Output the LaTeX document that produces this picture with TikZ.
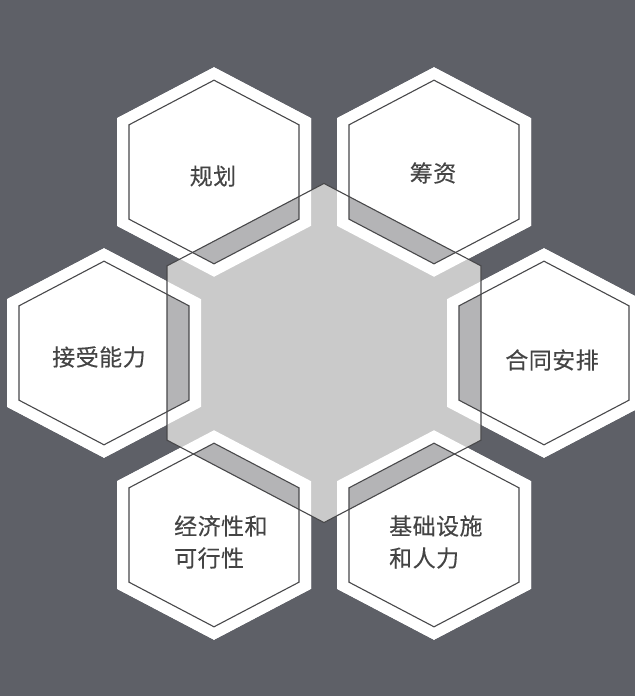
\documentclass[tikz,border=0pt]{standalone}
\usepackage{fontspec}
\newfontfamily\cjk[LetterSpace=2,FakeBold=0.25]{Noto Sans CJK SC}
\definecolor{bgdark}{RGB}{94,96,103}
\definecolor{stip}{RGB}{202,202,202}
\definecolor{stipdark}{RGB}{180,180,182}
\definecolor{linec}{RGB}{72,72,74}
\definecolor{txt}{RGB}{68,68,68}
\newcommand\hexagonpath[3]{({#1+#3},{#2-0.555*#3}) -- ({#1},{#2-1.08*#3}) -- ({#1-#3},{#2-0.555*#3}) -- ({#1-#3},{#2+0.555*#3}) -- ({#1},{#2+1.08*#3}) -- ({#1+#3},{#2+0.555*#3}) -- cycle}
\tikzset{
  lbl/.style={inner sep=0pt, text=txt, font=\cjk\fontsize{23}{32}\selectfont},
  hexline/.style={draw=linec, line width=1.1pt, line join=miter},
}
\begin{document}
\begin{tikzpicture}[x=1pt,y=-1pt]
\useasboundingbox (0,0) rectangle (635,696);
\fill[bgdark] (0,0) rectangle (635,696);
% outer white cells
\foreach \cx/\cy in {214/172,434/172,104/353,544/353,214/535,434/535}
  \fill[white] \hexagonpath{\cx}{\cy}{97};
% central hexagon fill
\fill[stip] \hexagonpath{324}{353}{157};
% overlap strips
\begin{scope}
  \clip \hexagonpath{324}{353}{157};
  \foreach \cx/\cy in {214/172,434/172,104/353,544/353,214/535,434/535}
    \fill[stipdark] \hexagonpath{\cx}{\cy}{85};
\end{scope}
% white bands
\foreach \cx/\cy in {214/172,434/172,104/353,544/353,214/535,434/535}
  \fill[white, even odd rule] \hexagonpath{\cx}{\cy}{97} \hexagonpath{\cx}{\cy}{85};
% inner outlines
\foreach \cx/\cy in {214/172,434/172,104/353,544/353,214/535,434/535}
  \draw[hexline] \hexagonpath{\cx}{\cy}{85};
% central outline
\draw[hexline] \hexagonpath{324}{353}{157};
% labels
\node[lbl] (t1) at (213,176) {规划};
\node[lbl] (t2) at (433,173) {筹资};
\node[lbl] (t3) at (99,357) {接受能力};
\node[lbl] (t4) at (552,360) {合同安排};
\node[lbl, anchor=west, align=left] (t5) at (174,542) {经济性和\\可行性};
\node[lbl, anchor=west, align=left] (t6) at (389,542) {基础设施\\和人力};
\end{tikzpicture}
\end{document}
